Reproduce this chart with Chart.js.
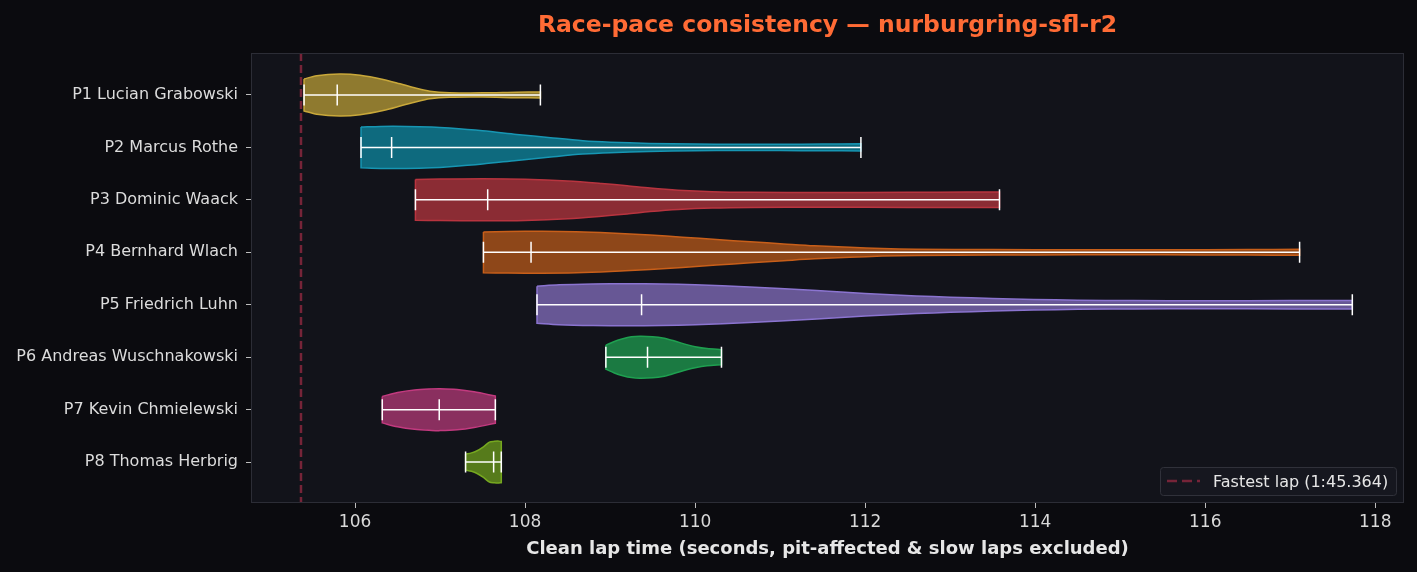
<!DOCTYPE html>
<html>
<head>
<meta charset="utf-8">
<script src="https://cdn.jsdelivr.net/npm/chart.js@4.4.0/dist/chart.umd.min.js"></script>
<style>
  html, body { margin: 0; padding: 0; background: #0b0b0f; }
  #wrap { width: 1417px; height: 572px; position: relative; }
  canvas { display: block; }
</style>
</head>
<body>
<div id="wrap"><canvas id="c" width="1417" height="572"></canvas></div>
<script>
// ---------------- DATA ----------------
const TITLE = 'Race-pace consistency \u2014 nurburgring-sfl-r2';
const X_TITLE = 'Clean lap time (seconds, pit-affected & slow laps excluded)';
const DRIVERS = [
  'P1 Lucian Grabowski',
  'P2 Marcus Rothe',
  'P3 Dominic Waack',
  'P4 Bernhard Wlach',
  'P5 Friedrich Luhn',
  'P6 Andreas Wuschnakowski',
  'P7 Kevin Chmielewski',
  'P8 Thomas Herbrig'
];
const MINS    = [105.40, 106.07, 106.71, 107.51, 108.14, 108.95, 106.32, 107.30];
const MEDIANS = [105.79, 106.43, 107.56, 108.07, 109.37, 109.44, 106.99, 107.63];
const MAXS    = [108.18, 111.95, 113.58, 117.11, 117.73, 110.31, 107.65, 107.72];
const FASTEST_LAP = 105.364;
const FASTEST_LABEL = 'Fastest lap (1:45.364)';
const XTICKS = [106, 108, 110, 112, 114, 116, 118];

// Violin outlines: lap time (s) and relative density (1 = widest point)
const P1_X = [105.40, 105.55, 105.82, 106.06, 106.33, 106.53, 106.72, 106.88, 107.11, 107.5, 107.9, 108.18];
const P1_D = [0.76, 0.92, 1.0, 0.94, 0.74, 0.53, 0.32, 0.18, 0.11, 0.10, 0.13, 0.14];
const P2_X = [106.07, 106.3, 106.6, 106.9, 107.11, 107.5, 107.9, 108.3, 108.68, 109.0, 109.46, 110.0, 110.5, 111.0, 111.5, 111.95];
const P2_D = [0.97, 1.0, 1.0, 0.97, 0.92, 0.79, 0.62, 0.46, 0.32, 0.25, 0.19, 0.16, 0.15, 0.15, 0.16, 0.17];
const P3_X = [106.71, 107.0, 107.5, 108.0, 108.5, 108.9, 109.2, 109.47, 109.8, 110.2, 110.65, 111.5, 112.5, 113.2, 113.58];
const P3_D = [0.97, 0.99, 1.0, 0.98, 0.9, 0.78, 0.67, 0.56, 0.46, 0.39, 0.36, 0.35, 0.36, 0.37, 0.37];
const P4_X = [107.51, 107.8, 108.2, 108.6, 109.0, 109.47, 109.85, 110.25, 110.65, 111.04, 111.4, 111.82, 112.2, 112.6, 113.5, 114.5, 115.5, 116.5, 117.11];
const P4_D = [0.97, 0.99, 1.0, 0.98, 0.92, 0.82, 0.72, 0.61, 0.5, 0.4, 0.31, 0.24, 0.18, 0.15, 0.13, 0.12, 0.12, 0.13, 0.14];
const P5_X = [108.14, 108.4, 108.8, 109.2, 109.6, 110.0, 110.64, 111.0, 111.43, 112.0, 112.6, 113.0, 113.5, 113.98, 114.5, 115.15, 116.0, 117.0, 117.73];
const P5_D = [0.88, 0.95, 0.99, 1.0, 0.99, 0.95, 0.85, 0.77, 0.68, 0.54, 0.42, 0.36, 0.3, 0.25, 0.22, 0.2, 0.19, 0.2, 0.2];
const P6_X = [108.95, 109.05, 109.15, 109.25, 109.35, 109.5, 109.62, 109.75, 109.9, 110.0, 110.14, 110.31];
const P6_D = [0.57, 0.75, 0.88, 0.97, 1.0, 0.98, 0.92, 0.78, 0.6, 0.5, 0.41, 0.36];
const P7_X = [106.32, 106.5, 106.7, 106.9, 107.0, 107.2, 107.4, 107.65];
const P7_D = [0.63, 0.82, 0.94, 0.99, 1.0, 0.96, 0.85, 0.65];
const P8_X = [107.30, 107.37, 107.43, 107.51, 107.58, 107.64, 107.68, 107.72];
const P8_D = [0.38, 0.44, 0.53, 0.73, 0.95, 0.99, 1.0, 0.98];

const PROFILE_X = [P1_X, P2_X, P3_X, P4_X, P5_X, P6_X, P7_X, P8_X];
const PROFILE_D = [P1_D, P2_D, P3_D, P4_D, P5_D, P6_D, P7_D, P8_D];

// ---------------- STYLE ----------------
const FILLS = ['#8f7a2f', '#0e6a7e', '#8b2c34', '#8e4719', '#675795', '#1b7a42', '#8a2f5f', '#567b1b'];
const EDGES = ['#c9a83a', '#1796b3', '#b8343f', '#c85f1a', '#8b74d0', '#1fa050', '#c23a7f', '#76a820'];
const HALF = 0.4;       // max half-width of a violin in category units
const BAR_HALF = 0.2;   // half-length of min/median/max bars
const X_MIN = 104.776, X_MAX = 118.338;
const Y_MIN = -0.8, Y_MAX = 7.78;
const FONT = "'DejaVu Sans', 'Liberation Sans', sans-serif";
const FASTEST_COLOR = '#762438';

// ---------------- BUILD ----------------
function violinPoints(pos, xs, ds) {
  const up = xs.map((x, i) => ({x: x, y: pos - ds[i] * HALF}));
  const lo = xs.map((x, i) => ({x: x, y: pos + ds[i] * HALF})).reverse();
  const pts = [];
  up.forEach(p => pts.push(p));
  pts.push(up[up.length - 1]);
  pts.push(lo[0]);
  lo.forEach(p => pts.push(p));
  pts.push(lo[lo.length - 1]);
  pts.push(up[0]);
  return pts;
}

const datasets = [];
DRIVERS.forEach((name, i) => {
  datasets.push({
    label: name,
    data: violinPoints(i, PROFILE_X[i], PROFILE_D[i]),
    showLine: true, fill: 'shape',
    backgroundColor: FILLS[i], borderColor: EDGES[i], borderWidth: 1.5,
    pointRadius: 0, tension: 0.3, order: 3
  });
  const white = {showLine: true, fill: false, borderColor: '#ffffff', borderWidth: 1.5,
                 pointRadius: 0, tension: 0, order: 1};
  datasets.push(Object.assign({label: name + ' range', data: [{x: MINS[i], y: i}, {x: MAXS[i], y: i}]}, white));
  [MINS[i], MEDIANS[i], MAXS[i]].forEach(v => {
    datasets.push(Object.assign({label: name + ' bar', data: [{x: v, y: i - BAR_HALF}, {x: v, y: i + BAR_HALF}]}, white));
  });
});
datasets.push({
  label: FASTEST_LABEL,
  data: [{x: FASTEST_LAP, y: Y_MIN}, {x: FASTEST_LAP, y: Y_MAX}],
  showLine: true, fill: false, borderColor: FASTEST_COLOR, borderWidth: 2.5,
  borderDash: [8, 4], pointRadius: 0, order: 2
});

const decor = {
  id: 'decor',
  beforeDraw(chart) {
    const {ctx, chartArea: a} = chart;
    ctx.save();
    ctx.fillStyle = '#0b0b0f';
    ctx.fillRect(0, 0, chart.width, chart.height);
    ctx.fillStyle = '#12131a';
    ctx.fillRect(a.left, a.top, a.right - a.left, a.bottom - a.top);
    ctx.restore();
  },
  afterDraw(chart) {
    const {ctx, chartArea: a} = chart;
    ctx.save();
    // frame
    ctx.strokeStyle = '#2c2d36';
    ctx.lineWidth = 1;
    ctx.strokeRect(a.left + 0.5, a.top + 0.5, a.right - a.left - 1, a.bottom - a.top - 1);
    // title
    ctx.fillStyle = '#ff6b35';
    ctx.font = "bold 23.5px " + FONT;
    ctx.textAlign = 'center';
    ctx.textBaseline = 'alphabetic';
    ctx.fillText(TITLE, (a.left + a.right) / 2, 32);
    // legend
    const bx = a.right - 244, by = a.bottom - 36, bw = 236, bh = 28;
    ctx.fillStyle = '#16171f';
    ctx.strokeStyle = '#30313a';
    ctx.lineWidth = 1;
    ctx.beginPath();
    if (ctx.roundRect) ctx.roundRect(bx + 0.5, by + 0.5, bw, bh, 3); else ctx.rect(bx + 0.5, by + 0.5, bw, bh);
    ctx.fill();
    ctx.stroke();
    ctx.strokeStyle = FASTEST_COLOR;
    ctx.lineWidth = 2.5;
    ctx.setLineDash([10, 5]);
    ctx.beginPath();
    ctx.moveTo(bx + 7, by + 14);
    ctx.lineTo(bx + 40, by + 14);
    ctx.stroke();
    ctx.setLineDash([]);
    ctx.fillStyle = '#e6e6e6';
    ctx.font = "16px " + FONT;
    ctx.textAlign = 'left';
    ctx.fillText(FASTEST_LABEL, bx + 53, by + 20);
    ctx.restore();
  }
};

new Chart(document.getElementById('c'), {
  type: 'scatter',
  data: {datasets: datasets},
  options: {
    responsive: false,
    devicePixelRatio: 1,
    animation: false,
    events: [],
    layout: {padding: {left: 0, top: 53, right: 13, bottom: 0}},
    plugins: {legend: {display: false}, tooltip: {enabled: false}, title: {display: false}},
    scales: {
      x: {
        type: 'linear', min: X_MIN, max: X_MAX,
        afterBuildTicks: s => { s.ticks = XTICKS.map(v => ({value: v})); },
        afterFit: s => { s.height = 69; },
        ticks: {color: '#d9d9d9', font: {family: FONT, size: 17}, padding: 4,
                callback: v => String(v)},
        grid: {display: true, drawOnChartArea: false, drawTicks: true, tickLength: 5,
               tickColor: '#bdbdbd', tickWidth: 1},
        border: {display: false},
        title: {display: true, text: X_TITLE, color: '#e6e6e6',
                font: {family: FONT, size: 18, weight: 'bold'}, padding: {top: 0, bottom: 12}}
      },
      y: {
        type: 'linear', reverse: true, min: Y_MIN, max: Y_MAX,
        afterBuildTicks: s => { s.ticks = DRIVERS.map((d, i) => ({value: i})); },
        afterFit: s => { s.width = 251; },
        ticks: {color: '#dcdcdc', font: {family: FONT, size: 16}, padding: 8,
                callback: v => DRIVERS[Math.round(v)]},
        grid: {display: true, drawOnChartArea: false, drawTicks: true, tickLength: 5,
               tickColor: '#bdbdbd', tickWidth: 1},
        border: {display: false}
      }
    }
  },
  plugins: [decor]
});
</script>
</body>
</html>
